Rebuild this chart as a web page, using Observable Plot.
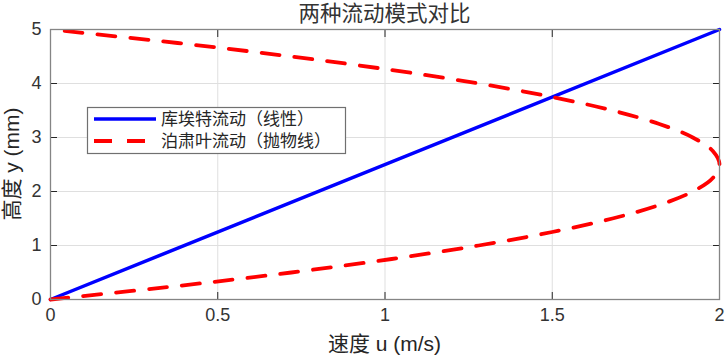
<!DOCTYPE html>
<html><head><meta charset="utf-8">
<script src="https://cdn.jsdelivr.net/npm/d3@7"></script>
<script src="https://cdn.jsdelivr.net/npm/@observablehq/plot@0.6"></script>
<style>
body{margin:0;background:#fff;}
#chart svg{display:block;}
</style></head><body><div id="chart"></div>
<script>
const title = "两种流动模式对比";
const xLabel = "速度 u (m/s)";
const yLabel = "高度 y (mm)";
const seriesNames = ["库埃特流动（线性）", "泊肃叶流动（抛物线）"];
const seriesColors = ["#0000ff", "#ff0000"];

const couetteY = [0, 5];
const couetteU = [0, 2];

const poiseuilleY = [0, 0.25, 0.5, 0.75, 1, 1.25, 1.5, 1.75, 2, 2.25, 2.5, 2.75, 3, 3.25, 3.5, 3.75, 4, 4.25, 4.5, 4.75, 5];
const poiseuilleU = [0, 0.38, 0.72, 1.02, 1.28, 1.5, 1.68, 1.82, 1.92, 1.98, 2, 1.98, 1.92, 1.82, 1.68, 1.5, 1.28, 1.02, 0.72, 0.38, 0];

const xTicks = [0, 0.5, 1, 1.5, 2];
const xTickLabels = ["0", "0.5", "1", "1.5", "2"];
const yTicks = [0, 1, 2, 3, 4, 5];
const yTickLabels = ["0", "1", "2", "3", "4", "5"];

const couette = couetteY.map((y, i) => ({y, u: couetteU[i]}));
const poiseuille = poiseuilleY.map((y, i) => ({y, u: poiseuilleU[i]}));

const W = 726, H = 357;
const mL = 50, mR = 7, mT = 29, mB = 58;
const font = "'Liberation Sans', Arial, 'Noto Sans CJK SC', sans-serif";
const tickColor = "#262626";
const tickLen = -7;

const chart = Plot.plot({
  width: W, height: H,
  marginLeft: mL, marginRight: mR, marginTop: mT, marginBottom: mB,
  style: {fontFamily: font, fontSize: "18px", color: tickColor, background: "#fff"},
  x: {domain: [0, 2]},
  y: {domain: [0, 5]},
  marks: [
    Plot.gridX(xTicks, {stroke: "#dfdfdf", strokeOpacity: 1, strokeWidth: 1}),
    Plot.gridY(yTicks, {stroke: "#dfdfdf", strokeOpacity: 1, strokeWidth: 1}),
    Plot.line(couette, {x: "u", y: "y", stroke: seriesColors[0], strokeWidth: 3.5}),
    Plot.line(poiseuille, {x: "u", y: "y", curve: "catmull-rom", stroke: seriesColors[1], strokeWidth: 3.8, strokeDasharray: "18,15"}),
    Plot.axisX(xTicks, {anchor: "bottom", tickSize: tickLen, tickPadding: 16, stroke: tickColor, tickFormat: (d, i) => xTickLabels[i], label: null, fontSize: 18, fill: "#333"}),
    Plot.axisX(xTicks, {anchor: "top", tickSize: tickLen, stroke: tickColor, tickFormat: () => "", label: null}),
    Plot.axisY(yTicks, {anchor: "left", tickSize: tickLen, tickPadding: 16, stroke: tickColor, tickFormat: (d, i) => yTickLabels[i], label: null, fontSize: 18, fill: "#333"}),
    Plot.axisY(yTicks, {anchor: "right", tickSize: tickLen, stroke: tickColor, tickFormat: () => "", label: null}),
    Plot.frame({stroke: "#858585", strokeWidth: 1.3})
  ]
});
document.getElementById("chart").appendChild(chart);

const svg = d3.select(chart);
const cx = mL + (W - mL - mR) / 2;
svg.append("text").attr("x", cx).attr("y", 21).attr("text-anchor", "middle")
  .attr("font-family", font).attr("font-size", 21.5).attr("fill", "#333").text(title);
svg.append("text").attr("x", cx).attr("y", 351).attr("text-anchor", "middle")
  .attr("font-family", font).attr("font-size", 21).attr("fill", "#262626").text(xLabel);
svg.append("text").attr("transform", `translate(19,${mT + (H - mT - mB) / 2}) rotate(-90)`)
  .attr("text-anchor", "middle").attr("font-family", font).attr("font-size", 21).attr("fill", "#262626").text(yLabel);

// legend
const lg = svg.append("g");
lg.append("rect").attr("x", 87.5).attr("y", 107.5).attr("width", 258).attr("height", 46)
  .attr("fill", "#fff").attr("stroke", "#707070").attr("stroke-width", 1.2);
seriesNames.forEach((name, i) => {
  const y = 119 + i * 22;
  lg.append("line").attr("x1", 94).attr("x2", 156).attr("y1", y).attr("y2", y)
    .attr("stroke", seriesColors[i]).attr("stroke-width", i ? 3.8 : 3.5)
    .attr("stroke-dasharray", i ? "18,15" : null);
  lg.append("text").attr("x", 161).attr("y", y + 6).attr("text-anchor", "start")
    .attr("font-family", font).attr("font-size", 17).attr("fill", "#262626").text(name);
});
</script></body></html>
